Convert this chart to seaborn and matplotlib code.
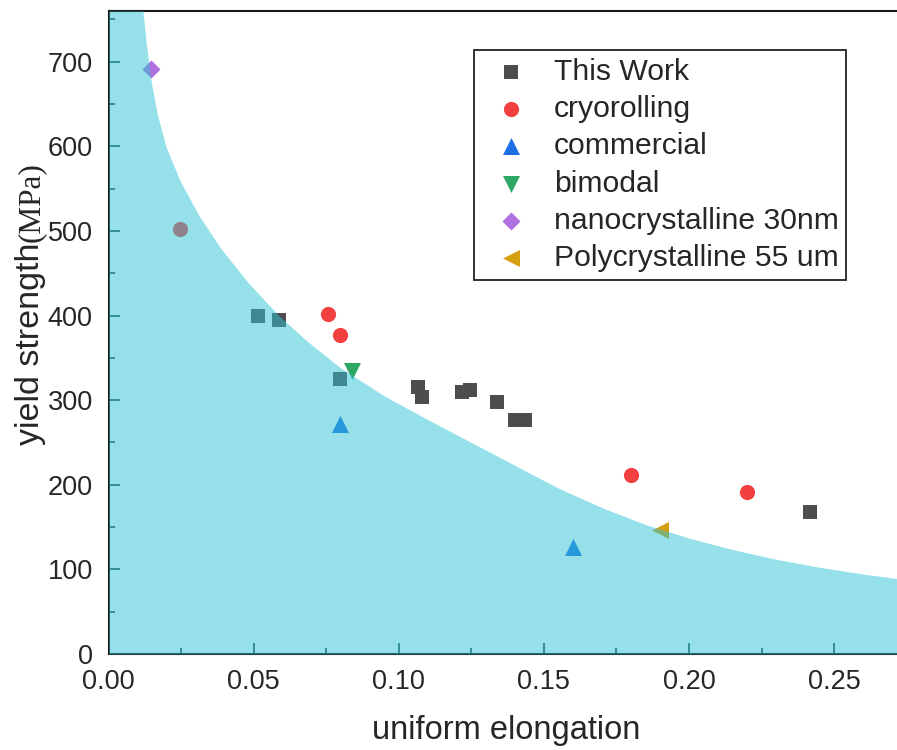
import numpy as np
import pandas as pd
import matplotlib.pyplot as plt
import seaborn as sns
from matplotlib.ticker import MultipleLocator

# boundary of the shaded region
curve_x = [0.0, 0.0118, 0.0130, 0.0145, 0.0166, 0.0197, 0.0245, 0.0308, 0.0385,
           0.0478, 0.0586, 0.0690, 0.0800, 0.0950, 0.1100, 0.1250, 0.1400,
           0.1550, 0.1700, 0.1850, 0.2000, 0.2150, 0.2300, 0.2450, 0.2600, 0.2720]
curve_y = [760, 760, 720, 680, 640, 600, 560, 520, 480,
           440, 400, 368, 338, 305, 277, 250, 223,
           196, 173, 153, 137, 123.5, 112, 102.5, 94.5, 89]

# scatter groups
this_work_x = [0.0515, 0.0588, 0.0798, 0.1067, 0.1079, 0.1217, 0.1245, 0.1337, 0.1401, 0.1435, 0.2418]
this_work_y = [400, 395, 325, 315, 304, 310, 312, 298, 276, 276, 168]
cryo_x = [0.0246, 0.0756, 0.0797, 0.1799, 0.2199]
cryo_y = [502, 402, 377, 212, 191]
commercial_x = [0.0797, 0.1600]
commercial_y = [272, 126]
bimodal_x = [0.0838]
bimodal_y = [334]
nano_x = [0.0146]
nano_y = [692]
poly_x = [0.1900]
poly_y = [147]

groups = ["This Work", "cryorolling", "commercial", "bimodal",
          "nanocrystalline 30nm", "Polycrystalline 55 um"]
xs = [this_work_x, cryo_x, commercial_x, bimodal_x, nano_x, poly_x]
ys = [this_work_y, cryo_y, commercial_y, bimodal_y, nano_y, poly_y]
markers = ["s", "o", "^", "v", "D", "<"]
colors = ["#4d4d4d", "#f24040", "#1e6ee6", "#2ea866", "#b070e0", "#d4a010"]
sizes = [95, 120, 150, 150, 85, 150]

sns.set_style("ticks")
plt.rcParams["font.family"] = ["Liberation Sans", "DejaVu Sans"]

fig = plt.figure(figsize=(8.97, 7.5), dpi=100)
ax = fig.add_axes([108.7 / 897, 96 / 750, (897 - 108.7) / 897, 643 / 750])

for name, gx, gy, m, c, s in zip(groups, xs, ys, markers, colors, sizes):
    df = pd.DataFrame({"x": gx, "y": gy})
    sns.scatterplot(data=df, x="x", y="y", marker=m, color=c, s=s,
                    linewidth=0, label=name, ax=ax, zorder=2)

# translucent shaded region drawn over the markers
ax.fill_between(curve_x, 0, curve_y, color="#2ec4d5", alpha=0.5, lw=0, zorder=3)

ax.set_xlim(0, 0.2717)
ax.set_ylim(0, 760)
ax.xaxis.set_major_locator(MultipleLocator(0.05))
ax.xaxis.set_minor_locator(MultipleLocator(0.025))
ax.yaxis.set_major_locator(MultipleLocator(100))
ax.yaxis.set_minor_locator(MultipleLocator(50))
ax.xaxis.set_major_formatter(plt.FuncFormatter(lambda v, p: f"{v:.2f}"))
ax.tick_params(which="major", direction="in", length=8, width=1.2,
               labelsize=19.5, color="#1a3a3e")
ax.tick_params(which="minor", direction="in", length=4.3, width=1.2, color="#1a3a3e")
ax.tick_params(axis="x", which="major", pad=11)
ax.tick_params(axis="y", which="major", pad=11.5)
ax.tick_params(top=False, right=False, which="both")
ax.spines["right"].set_visible(False)
for sp in ["left", "bottom", "top"]:
    ax.spines[sp].set_linewidth(1.5)
    ax.spines[sp].set_color("#1a1a1a")

ax.set_xlabel("")
ax.set_ylabel("")
fig.text(506 / 897, 1 - 731 / 750, "uniform elongation", ha="center", va="center", fontsize=23.5)
ylab = fig.text(31 / 897, 1 - 445 / 750, "yield strength", ha="center", va="bottom",
                rotation=90, fontsize=24.5)
fig.canvas.draw()
bb = ylab.get_window_extent()
fig.text(31 / 897, (bb.y1 + 1) / 750, "(MPa)", ha="center", va="bottom",
         rotation=90, fontsize=22.5, family=["Liberation Serif", "DejaVu Serif"])

leg = ax.legend(loc="upper left", bbox_to_anchor=((474 - 108.7) / 788.3, (654 - 50) / 643),
                borderaxespad=0, fancybox=False, frameon=True, fontsize=21.7,
                handletextpad=0.45, labelspacing=0.31, borderpad=0.25,
                handlelength=1.95, framealpha=1)
leg.get_frame().set_edgecolor("#222222")
leg.get_frame().set_linewidth(1.3)
leg.set_zorder(5)

fig.savefig("out.png", dpi=100)
